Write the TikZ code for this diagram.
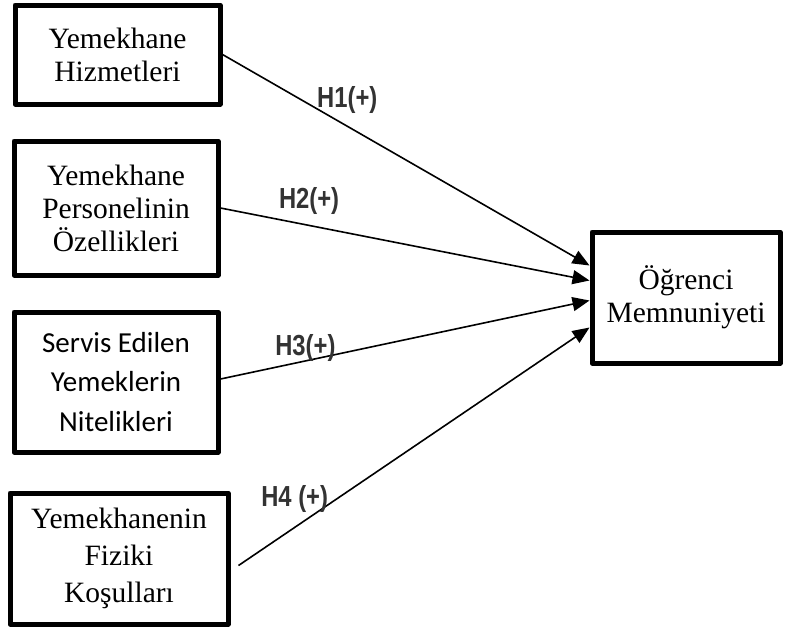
\documentclass[tikz,border=0pt]{standalone}
\usepackage{fontspec}
\setmainfont{Liberation Serif}
\newfontfamily\calibri{Carlito}
\newfontfamily\hypfont[FakeStretch=0.82]{Liberation Sans Bold}
\usepackage{tikz}
\usetikzlibrary{arrows.meta, positioning}
\tikzstyle{block} = [rectangle, line width=5pt, line join=round, draw=black, align=center, inner sep=0pt, font=\fontsize{29.5}{33}\selectfont]
\tikzstyle{arrow} = [line width=1.6pt, -{Triangle[length=17pt,width=14pt]}]
\tikzstyle{hyp} = [inner sep=0pt, text=black!80, font=\hypfont\fontsize{29}{30}\selectfont]

\begin{document}
\begin{tikzpicture}[x=1pt, y=-1pt, node distance=32pt]
	\useasboundingbox (0,0) rectangle (791,630);
	\node (Services) [block, minimum width=205pt, minimum height=99pt] at (117.5,54.5) {Yemekhane\\Hizmetleri};
	\node (Staff) [block, minimum width=204pt, minimum height=134pt, below = of Services, xshift=-1.5pt] {Yemekhane\\Personelinin\\Özellikleri};
	\node (Meals) [block, minimum width=204pt, minimum height=140pt, below = of Staff, font=\calibri\fontsize{29}{39.5}\selectfont] {Servis Edilen\\Yemeklerin\\Nitelikleri};
	\node (Facilities) [block, minimum width=218pt, minimum height=131pt, below = 36pt of Meals, xshift=3pt, font=\fontsize{29.5}{37}\selectfont] {Yemekhanenin\\Fiziki\\Koşulları};
	\node (Satisfaction) [block, minimum width=188pt, minimum height=131pt] at (686,297.5) {Öğrenci\\Memnuniyeti};
	\draw [arrow] (Services.east) -- node[hyp, pos=0.34, yshift=26pt]{H1(+)} ([yshift=32pt]Satisfaction.west);
	\draw [arrow] (Staff.east) -- node[hyp, pos=0.24, yshift=24pt]{H2(+)} ([yshift=17pt]Satisfaction.west);
	\draw [arrow] ([yshift=3pt]Meals.east) -- node[hyp, pos=0.23, yshift=13pt]{H3(+)} ([yshift=-3pt]Satisfaction.west);
	\draw [arrow] ([xshift=8pt,yshift=-7pt]Facilities.east) -- node[hyp, pos=0.16, yshift=28pt]{H4 (+)} ([yshift=-30pt]Satisfaction.west);
\end{tikzpicture}
\end{document}
